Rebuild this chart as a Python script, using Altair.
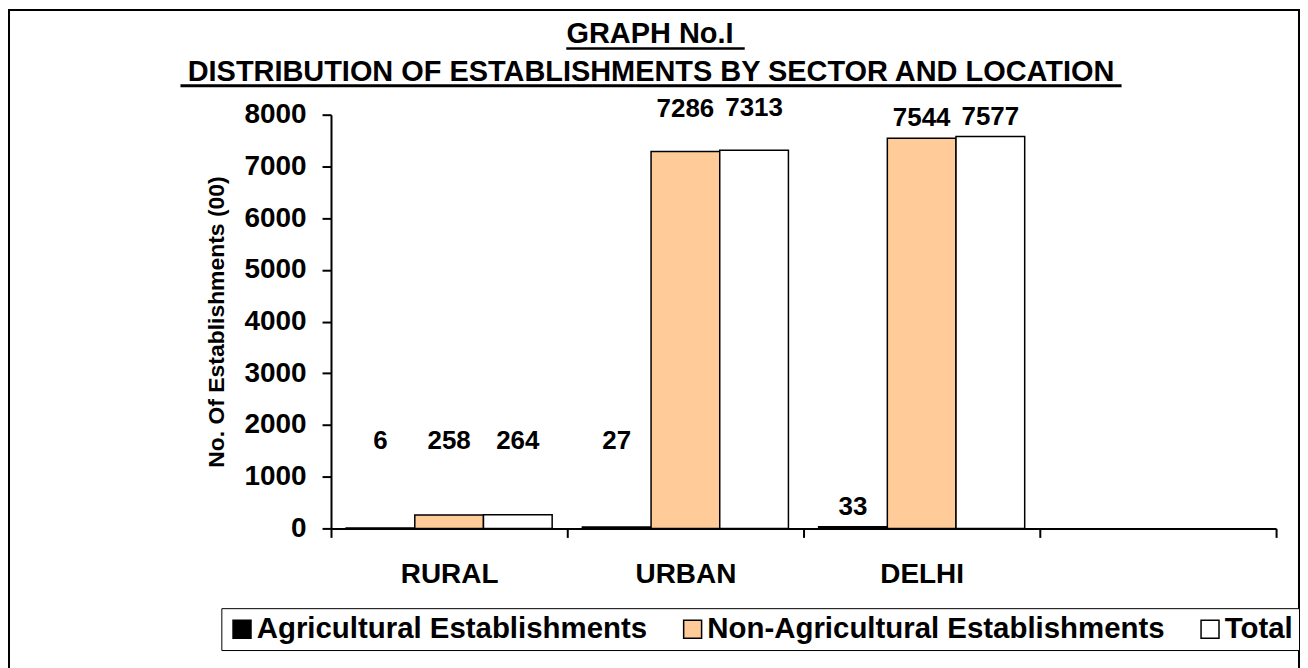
import altair as alt
import pandas as pd

LOCATIONS = ["RURAL", "URBAN", "DELHI"]
EMPTY_SLOT = [" "]
SERIES = ["Agricultural Establishments", "Non-Agricultural Establishments", "Total"]
AGRI = [6, 27, 33]
NON_AGRI = [258, 7286, 7544]
TOTAL = [264, 7313, 7577]
COLORS = ["#000000", "#FFCC99", "#FFFFFF"]
Y_TICKS = [0, 1000, 2000, 3000, 4000, 5000, 6000, 7000, 8000]
TITLE_1 = ["GRAPH No.I"]
TITLE_2 = ["DISTRIBUTION OF ESTABLISHMENTS BY SECTOR AND LOCATION"]
Y_TITLE = "No. Of Establishments (00)"

FONT = "Liberation Sans"

rows = []
for s, vals in zip(SERIES, [AGRI, NON_AGRI, TOTAL]):
    for loc, v in zip(LOCATIONS, vals):
        rows.append({"loc": loc, "series": s, "value": v})
df = pd.DataFrame(rows)

xscale = alt.Scale(domain=LOCATIONS + EMPTY_SLOT, paddingInner=0, paddingOuter=0)
xoff_scale = alt.Scale(domain=SERIES, paddingInner=0, paddingOuter=0.22)
yscale = alt.Scale(domain=[0, 8000], nice=False)

xaxis = alt.Axis(title=None, labelAngle=0, tickBand="extent", labelFontSize=28,
                 labelFont=FONT, labelFontWeight="bold", labelColor="black",
                 tickSize=9, tickWidth=2, tickColor="black", domainColor="black",
                 domainWidth=2, labelPadding=23, grid=False)
yaxis = alt.Axis(title=Y_TITLE, values=Y_TICKS, labelFontSize=28, labelFont=FONT,
                 labelFontWeight="bold", labelColor="black", tickSize=9, tickWidth=2,
                 tickColor="black", domainColor="black", domainWidth=2, labelPadding=16,
                 grid=False, titleFontSize=23, titleFont=FONT, titleFontWeight="bold",
                 titleColor="black", titleAngle=270, titleX=-115, titleY=207.5,
                 titleAlign="center", titleBaseline="middle", format="d")

base = alt.Chart(df)

bars = base.mark_bar(stroke="black", strokeWidth=1.5).encode(
    x=alt.X("loc:N", scale=xscale, axis=xaxis, sort=None),
    xOffset=alt.XOffset("series:N", scale=xoff_scale, sort=None),
    y=alt.Y("value:Q", scale=yscale, axis=yaxis),
    color=alt.Color("series:N", scale=alt.Scale(domain=SERIES, range=COLORS),
                    legend=alt.Legend(title=None, orient="none", legendX=-110, legendY=495,
                                      direction="horizontal", symbolType="square",
                                      symbolSize=324, symbolStrokeColor="black",
                                      symbolStrokeWidth=1.5, labelFontSize=29.5,
                                      labelFont=FONT, labelFontWeight="bold",
                                      labelColor="black", labelLimit=700,
                                      strokeColor="black", padding=6, columnPadding=30,
                                      labelOffset=0, fillColor="white")),
)

labels = base.transform_calculate(
    lab="datum.loc == 'DELHI' ? datum.value : (datum.value < 1000 ? 1310 : datum.value + 440)"
).mark_text(fontSize=26, fontWeight="bold", font=FONT, baseline="alphabetic",
            dy=-12, color="black").encode(
    x=alt.X("loc:N", scale=xscale, axis=xaxis, sort=None),
    xOffset=alt.XOffset("series:N", scale=xoff_scale, sort=None),
    y=alt.Y("lab:Q", scale=yscale, axis=yaxis),
    text=alt.Text("value:Q", format="d"),
)

t1 = pd.DataFrame({"t": TITLE_1})
t2 = pd.DataFrame({"t": TITLE_2})

title1 = alt.Chart(t1).mark_text(fontSize=29, fontWeight="bold", font=FONT,
                                 baseline="alphabetic", align="center", color="black").encode(
    text="t:N", x=alt.value(320), y=alt.value(-72))
title2 = alt.Chart(t2).mark_text(fontSize=29, fontWeight="bold", font=FONT,
                                 baseline="alphabetic", align="center", color="black").encode(
    text="t:N", x=alt.value(321), y=alt.value(-34))
ul1 = alt.Chart(t1).mark_rule(color="black", strokeWidth=2.5).encode(
    x=alt.value(236), x2=alt.value(415), y=alt.value(-66.5))
ul2 = alt.Chart(t2).mark_rule(color="black", strokeWidth=3).encode(
    x=alt.value(-151), x2=alt.value(793), y=alt.value(-29))
border = alt.Chart(t1).mark_rect(filled=False, stroke="black", strokeWidth=2).encode(
    x=alt.value(-323), x2=alt.value(971), y=alt.value(-105), y2=alt.value(560))

chart = alt.layer(border, bars, labels, title1, title2, ul1, ul2).properties(
    width=948, height=415,
    autosize=alt.AutoSizeParams(type="none"),
    padding={"left": 324, "top": 106, "right": 24, "bottom": 139},
    background="white",
).configure_view(strokeWidth=0)

chart.save("out.html", embed_options={"renderer": "svg", "actions": False})
